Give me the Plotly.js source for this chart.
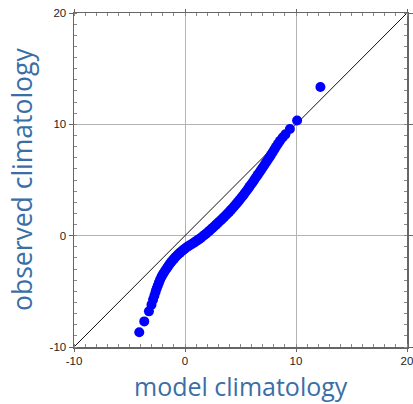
<!DOCTYPE html>
<html>
<head>
<meta charset="utf-8">
<script src="https://cdn.plot.ly/plotly-3.0.1.min.js"></script>
<style>html,body{margin:0;padding:0;background:#fff;}#chart{width:413px;height:404px;}</style>
</head>
<body>
<div id="chart"></div>
<script>
// model climatology quantiles (x) and observed climatology quantiles (y)
const modelQ = [-4.12,-3.67,-3.25,-3.02,-2.88,-2.76,-2.65,-2.55,-2.45,-2.35,-2.24,-2.12,-2.0,-1.88,-1.75,-1.62,-1.5,-1.38,-1.25,-1.12,-0.98,-0.85,-0.72,-0.58,-0.44,-0.3,-0.16,-0.02,0.12,0.26,0.4,0.55,0.7,0.85,1.0,1.15,1.3,1.45,1.6,1.75,1.9,2.05,2.2,2.35,2.5,2.65,2.8,2.95,3.1,3.25,3.4,3.55,3.7,3.85,4.0,4.15,4.3,4.45,4.6,4.75,4.9,5.05,5.2,5.35,5.5,5.65,5.8,5.95,6.1,6.25,6.4,6.55,6.7,6.85,7.0,7.15,7.3,7.45,7.6,7.75,7.9,8.05,8.2,8.38,8.56,8.8,9.05,9.45,10.1,12.2];
const obsQ = [-8.67,-7.70,-6.80,-6.20,-5.75,-5.40,-5.05,-4.75,-4.48,-4.22,-3.95,-3.70,-3.48,-3.28,-3.08,-2.90,-2.72,-2.55,-2.38,-2.22,-2.06,-1.92,-1.78,-1.64,-1.52,-1.40,-1.28,-1.17,-1.07,-0.98,-0.89,-0.80,-0.70,-0.60,-0.50,-0.40,-0.29,-0.18,-0.06,0.06,0.18,0.31,0.44,0.57,0.71,0.85,0.99,1.13,1.27,1.41,1.55,1.70,1.85,2.00,2.16,2.32,2.49,2.66,2.83,3.01,3.19,3.38,3.57,3.77,3.97,4.17,4.38,4.59,4.80,5.02,5.24,5.46,5.68,5.90,6.12,6.35,6.58,6.80,7.03,7.26,7.50,7.74,7.98,8.25,8.52,8.82,9.10,9.58,10.35,13.35];
const oneToOne = [-10, 20];
const tickVals = [-10, 0, 10, 20];
const tickText = ['-10', '0', '10', '20'];
const xTitle = 'model climatology';
const yTitle = 'observed climatology';

const axisCommon = {
  range: [-10, 20],
  tickvals: tickVals,
  ticktext: tickText,
  showgrid: true,
  gridcolor: '#b4b4b4',
  gridwidth: 1,
  zeroline: false,
  showline: true,
  linecolor: '#666',
  linewidth: 1.5,
  mirror: 'allticks',
  ticks: 'outside',
  ticklen: 4,
  tickcolor: '#666',
  tickwidth: 1,
  ticklabeloverflow: 'allow',
  tickfont: {family: 'Liberation Sans, Arial, sans-serif', size: 11.5, color: '#222'},
  minor: {dtick: 1, tick0: 0, ticks: 'inside', ticklen: 3, tickcolor: '#888', tickwidth: 1, showgrid: false},
  fixedrange: true
};

const xTitleFont = {family: 'Open Sans, Noto Sans, sans-serif', size: 25, color: '#3a6ea5'};
const yTitleFont = {family: 'Open Sans, Noto Sans, sans-serif', size: 26.5, color: '#3a6ea5'};

const data = [
  {x: oneToOne, y: oneToOne, mode: 'lines', type: 'scatter',
   line: {color: '#111', width: 1}, hoverinfo: 'skip', showlegend: false},
  {x: modelQ, y: obsQ, mode: 'markers', type: 'scatter',
   marker: {color: '#0000ff', size: 10, line: {width: 0}}, showlegend: false}
];

const layout = {
  width: 413, height: 404,
  margin: {l: 74, r: 6, t: 13, b: 57},
  paper_bgcolor: '#fff', plot_bgcolor: '#fff',
  xaxis: Object.assign({}, axisCommon, {ticklen: 3}),
  yaxis: Object.assign({}, axisCommon),
  annotations: [
    {text: xTitle, xref: 'paper', yref: 'paper', x: 0.5, y: 0, xanchor: 'center', yanchor: 'top',
     yshift: -21, showarrow: false, font: xTitleFont, borderpad: 0},
    {text: yTitle, xref: 'paper', yref: 'paper', x: 0, y: 0.5, xanchor: 'center', yanchor: 'middle',
     xshift: -52, textangle: -90, showarrow: false, font: yTitleFont, borderpad: 0}
  ],
  showlegend: false
};

Plotly.newPlot('chart', data, layout, {displayModeBar: false, staticPlot: true});
</script>
</body>
</html>
